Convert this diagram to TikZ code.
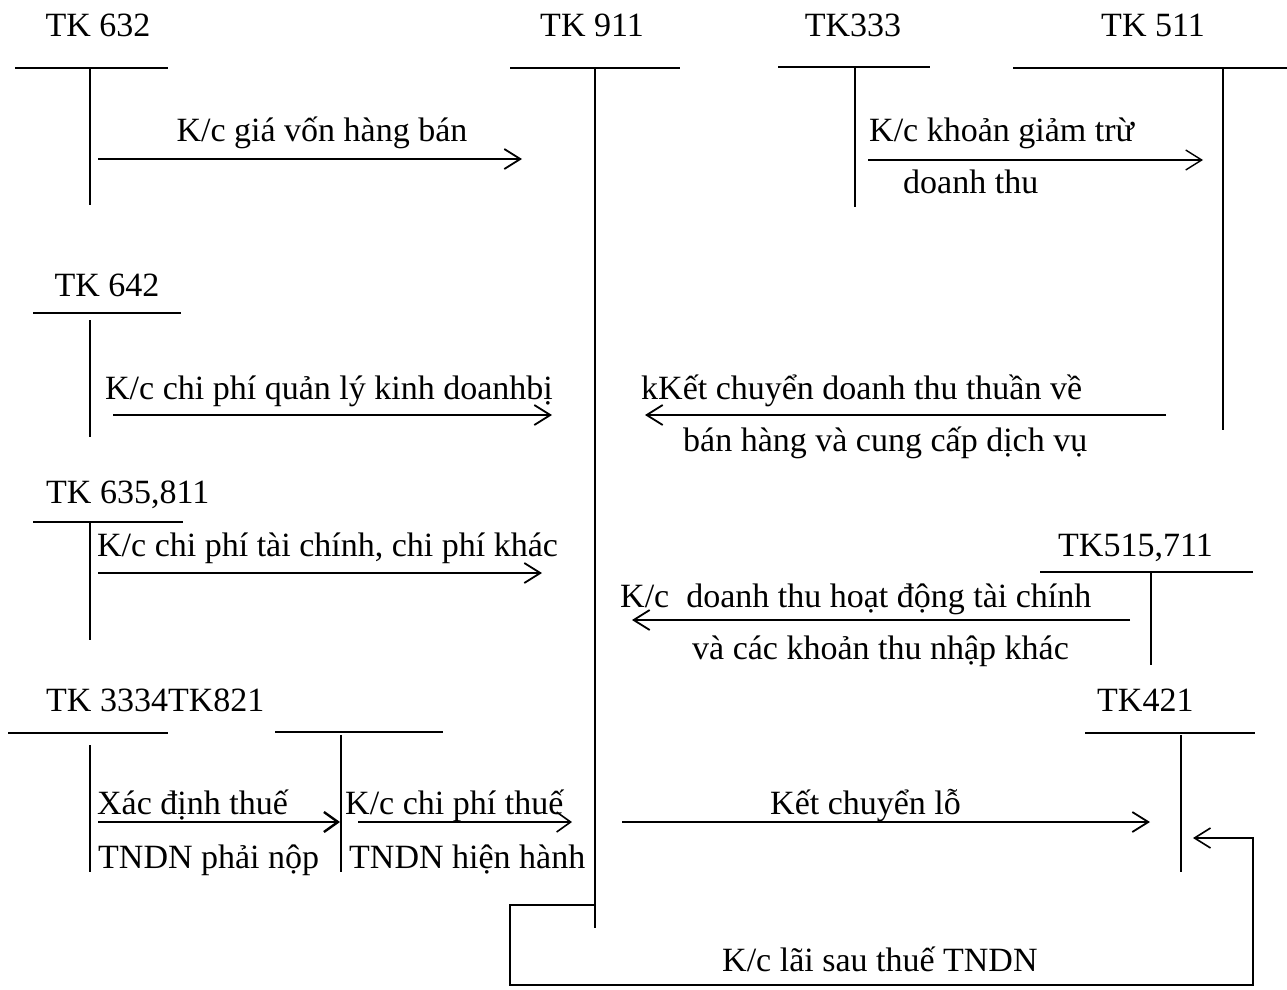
\documentclass[tikz,border=0pt]{standalone}
\usepackage{fontspec}
\setmainfont{Liberation Serif}
\usetikzlibrary{arrows.meta}
\tikzset{
  lbl/.style={inner sep=0pt, font=\fontsize{34}{40}\selectfont, anchor=base west},
  ttl/.style={inner sep=0pt, font=\fontsize{34}{40}\selectfont, anchor=base},
  tline/.style={line width=1.8pt},
  flow/.style={line width=1.8pt, -{Straight Barb[length=16pt,width=20pt]}},
}
\begin{document}
\begin{tikzpicture}[x=1pt,y=-1pt]
\useasboundingbox (0,0) rectangle (1287,989);

% ---- T accounts ----
% TK 632
\node[ttl] (t632) at (98,36) {TK 632};
\draw[tline] (15,68) -- (168,68);
\draw[tline] (90,68) -- (90,205);
% TK 911
\node[ttl] (t911) at (592,36) {TK 911};
\draw[tline] (510,68) -- (680,68);
\draw[tline] (595,68) -- (595,928);
% TK333
\node[ttl] (t333) at (853,36) {TK333};
\draw[line width=1.4pt] (778,67) -- (930,67);
\draw[line width=1.4pt] (855,68) -- (855,207);
% TK 511
\node[ttl] (t511) at (1153,36) {TK 511};
\draw[line width=2.2pt] (1013,68) -- (1287,68);
\draw[tline] (1223,68) -- (1223,430);
% TK 642
\node[ttl] (t642) at (107,296) {TK 642};
\draw[tline] (33,313) -- (181,313);
\draw[tline] (90,320) -- (90,437);
% TK 635,811
\node[lbl] (t635) at (46,503) {TK 635,811};
\draw[tline] (33,522) -- (183,522);
\draw[tline] (90,522) -- (90,640);
% TK515,711
\node[lbl] (t515) at (1058,556) {TK515,711};
\draw[line width=1.4pt] (1040,572) -- (1253,572);
\draw[line width=1.4pt] (1151,572) -- (1151,665);
% TK 3334 / TK821
\node[lbl] (t3334) at (46,711) {TK 3334TK821};
\draw[tline] (8,733) -- (168,733);
\draw[tline] (90,745) -- (90,872);
\draw[line width=1.4pt] (275,732) -- (443,732);
\draw[line width=1.4pt] (341,735) -- (341,872);
% TK421
\node[lbl] (t421) at (1097,711) {TK421};
\draw[line width=1.4pt] (1085,733) -- (1255,733);
\draw[line width=1.4pt] (1181,735) -- (1181,872);

% ---- flows ----
\coordinate (a1s) at (98,159);  \coordinate (a1e) at (522,159);
\draw[flow] (a1s) -- (a1e);
\node[ttl] (l1) at (322,141) {K/c giá vốn hàng bán};

\coordinate (a2s) at (868,160); \coordinate (a2e) at (1203,160);
\draw[line width=1.4pt, -{Straight Barb[length=16pt,width=20pt]}] (a2s) -- (a2e);
\node[lbl] (l2a) at (869,141) {K/c khoản giảm trừ};
\node[lbl] (l2b) at (903,193) {doanh thu};

\coordinate (a3s) at (113,415); \coordinate (a3e) at (552,415);
\draw[flow] (a3s) -- (a3e);
\node[lbl] (l3) at (105,399) {K/c chi phí quản lý kinh doanhbị};

\coordinate (a4s) at (1166,415); \coordinate (a4e) at (645,415);
\draw[flow] (a4s) -- (a4e);
\node[lbl] (l4a) at (641,399) {kKết chuyển doanh thu thuần về};
\node[lbl] (l4b) at (683,451) {bán hàng và cung cấp dịch vụ};

\coordinate (a5s) at (98,573); \coordinate (a5e) at (542,573);
\draw[flow] (a5s) -- (a5e);
\node[lbl] (l5) at (97,556) {K/c chi phí tài chính, chi phí khác};

\coordinate (a6s) at (1130,620); \coordinate (a6e) at (632,620);
\draw[flow] (a6s) -- (a6e);
\node[lbl] (l6a) at (620,607) {K/c\ \ doanh thu hoạt động tài chính};
\node[lbl] (l6b) at (692,659) {và các khoản thu nhập khác};

\coordinate (a7s) at (98,822); \coordinate (a7e) at (340,822);
\draw[line width=2.4pt, -{Straight Barb[length=14pt,width=20pt]}] (a7s) -- (a7e);
\node[lbl] (l7a) at (97,814) {Xác định thuế};
\node[lbl] (l7b) at (98,868) {TNDN phải nộp};

\coordinate (a8s) at (358,822); \coordinate (a8e) at (572,822);
\draw[line width=1.6pt, -{Straight Barb[length=14pt,width=20pt]}] (a8s) -- (a8e);
\node[lbl] (l8a) at (345,814) {K/c chi phí thuế};
\node[lbl] (l8b) at (349,868) {TNDN hiện hành};

\coordinate (a9s) at (622,822); \coordinate (a9e) at (1150,822);
\draw[flow] (a9s) -- (a9e);
\node[lbl] (l9) at (770,814) {Kết chuyển lỗ};

\coordinate (a10s) at (595,905); \coordinate (a10e) at (1193,838);
\draw[line width=1.6pt, -{Straight Barb[length=16pt,width=20pt]}]
  (a10s) -- (510,905) -- (510,985) -- (1253,985) -- (1253,838) -- (a10e);
\node[lbl] (l10) at (722,971) {K/c lãi sau thuế TNDN};
\end{tikzpicture}
\end{document}
